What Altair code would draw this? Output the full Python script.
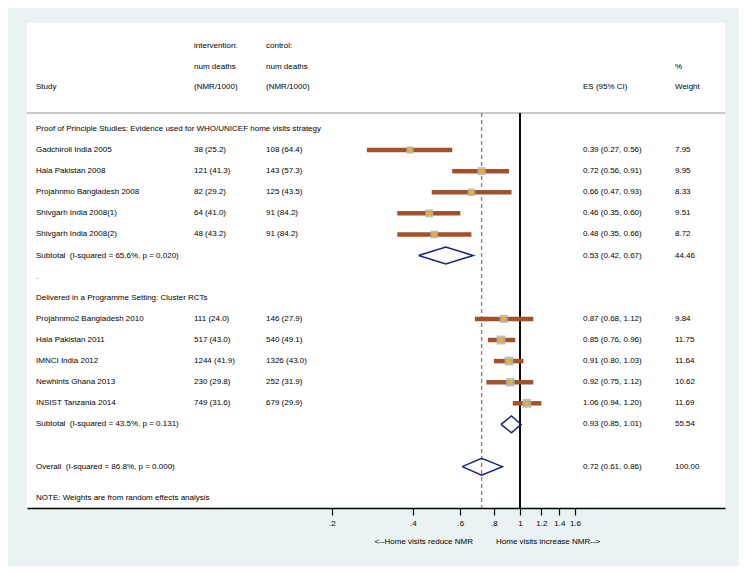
import altair as alt
import pandas as pd

# ---------------- data ----------------
study = ["Gadchiroli India 2005", "Hala Pakistan 2008", "Projahnmo Bangladesh 2008",
         "Shivgarh India 2008(1)", "Shivgarh India 2008(2)",
         "Projahnmo2 Bangladesh 2010", "Hala Pakistan 2011", "IMNCI India 2012",
         "Newhints Ghana 2013", "INSIST Tanzania 2014"]
study_row = [1, 2, 3, 4, 5, 9, 10, 11, 12, 13]
intervention = ["38 (25.2)", "121 (41.3)", "82 (29.2)", "64 (41.0)", "48 (43.2)",
                "111 (24.0)", "517 (43.0)", "1244 (41.9)", "230 (29.8)", "749 (31.6)"]
control = ["108 (64.4)", "143 (57.3)", "125 (43.5)", "91 (84.2)", "91 (84.2)",
           "146 (27.9)", "540 (49.1)", "1326 (43.0)", "252 (31.9)", "679 (29.9)"]
es = [0.39, 0.72, 0.66, 0.46, 0.48, 0.87, 0.85, 0.91, 0.92, 1.06]
lo = [0.27, 0.56, 0.47, 0.35, 0.35, 0.68, 0.76, 0.80, 0.75, 0.94]
hi = [0.56, 0.91, 0.93, 0.60, 0.66, 1.12, 0.96, 1.03, 1.12, 1.20]
weight = [7.95, 9.95, 8.33, 9.51, 8.72, 9.84, 11.75, 11.64, 10.62, 11.69]

pooled_label = ["Subtotal\u00a0 (I-squared = 65.6%, p = 0.020)",
                "Subtotal\u00a0 (I-squared = 43.5%, p = 0.131)",
                "Overall\u00a0 (I-squared = 86.8%, p = 0.000)"]
pooled_row = [6, 14, 16]
pooled_es = [0.53, 0.93, 0.72]
pooled_lo = [0.42, 0.85, 0.61]
pooled_hi = [0.67, 1.01, 0.86]
pooled_weight = [44.46, 55.54, 100.00]

group_label = ["Proof of Principle Studies: Evidence used for WHO/UNICEF home visits strategy",
               ".",
               "Delivered in a Programme Setting: Cluster RCTs"]
group_row = [0, 7, 8]

note_label = ["NOTE: Weights are from random effects analysis"]
note_row = [17.5]

tick_values = [0.2, 0.4, 0.6, 0.8, 1, 1.2, 1.4, 1.6]
axis_left_title = "<--Home visits reduce NMR"
axis_right_title = "Home visits increase NMR-->"

# ---------------- tables ----------------
studies = pd.DataFrame({
    "label": study, "row": study_row, "inter": intervention, "ctrl": control,
    "es": es, "lo": lo, "hi": hi, "w": weight,
})
studies["estxt"] = [f"{a:.2f} ({b:.2f}, {c:.2f})" for a, b, c in zip(es, lo, hi)]
studies["wtxt"] = [f"{v:.2f}" for v in weight]

pooled = pd.DataFrame({
    "label": pooled_label, "row": pooled_row, "es": pooled_es,
    "lo": pooled_lo, "hi": pooled_hi, "w": pooled_weight,
})
pooled["estxt"] = [f"{a:.2f} ({b:.2f}, {c:.2f})" for a, b, c in zip(pooled_es, pooled_lo, pooled_hi)]
pooled["wtxt"] = [f"{v:.2f}" for v in pooled_weight]

HALF = 0.4
diam_rows = []
for i in range(len(pooled_label)):
    pts = [(pooled_lo[i], pooled_row[i]), (pooled_es[i], pooled_row[i] - HALF),
           (pooled_hi[i], pooled_row[i]), (pooled_es[i], pooled_row[i] + HALF),
           (pooled_lo[i], pooled_row[i])]
    for k, (xx, yy) in enumerate(pts):
        diam_rows.append({"id": i, "k": k, "x": xx, "y": yy})
diamonds = pd.DataFrame(diam_rows)

groups = pd.DataFrame({"label": group_label, "row": group_row})
notes = pd.DataFrame({"label": note_label, "row": note_row})

# ---------------- layout ----------------
W, H = 698, 485
FONT = "Liberation Sans"
FS = 8
xscale = alt.Scale(type="log", domain=[0.01474, 5.775], nice=False, zero=False)
yscale = alt.Scale(domain=[-5.02, 17.96], reverse=True, nice=False, zero=False)

X_STUDY, X_INT, X_CTRL, X_ES, X_W = 9, 167, 239, 556, 648

xaxis = alt.Axis(values=tick_values, title=None, grid=False,
                 labelExpr="datum.value < 1 ? substring(format(datum.value, '.1f'), 1) : format(datum.value, '~g')",
                 domainColor="black", domainWidth=1.3, tickColor="black", tickWidth=1.2,
                 tickSize=7, labelPadding=4, labelFont=FONT, labelFontSize=FS,
                 labelColor="black", labelFlush=False)


def ycol(field):
    return alt.Y(field, type="quantitative", scale=yscale, axis=None)


def txt(df, field, xpix, ypos="row", align="left"):
    return alt.Chart(df).mark_text(align=align, baseline="middle", font=FONT,
                                   fontSize=FS, color="black").encode(
        x=alt.value(xpix), y=ycol(ypos), text=alt.Text(field, type="nominal"))


base_sep = alt.Chart(groups).mark_rule(color="#c9c9c9", strokeWidth=1.5).encode(
    x=alt.value(0), x2=alt.value(W), y=alt.value(90))

null_line = alt.Chart(groups).mark_rule(color="black", strokeWidth=1.3).encode(
    x=alt.X(datum=1, type="quantitative", scale=xscale, axis=xaxis),
    y=alt.value(90), y2=alt.value(H))

overall_line = alt.Chart(pooled.iloc[[2]]).mark_rule(
    color="#a8697a", strokeWidth=1.3, strokeDash=[4, 3]).encode(
    x=alt.X("es:Q", scale=xscale), y=alt.value(90), y2=alt.value(H))

ci = alt.Chart(studies).mark_rule(color="#a0522d", strokeWidth=4.5).encode(
    x=alt.X("lo:Q", scale=xscale), x2="hi:Q", y=ycol("row"))

boxes = alt.Chart(studies).mark_square(color="#b9b1a8", opacity=0.85).encode(
    x=alt.X("es:Q", scale=xscale), y=ycol("row"),
    size=alt.Size("w:Q", scale=alt.Scale(domain=[0, 12], range=[0, 80]), legend=None))

dots = alt.Chart(studies).mark_square(color="#f5b30c", size=12, opacity=1).encode(
    x=alt.X("es:Q", scale=xscale), y=ycol("row"))

diam = alt.Chart(diamonds).mark_line(color="#1a237e", strokeWidth=1.5).encode(
    x=alt.X("x:Q", scale=xscale), y=ycol("y"), detail="id:N", order="k:Q")

# header texts
hdr = pd.DataFrame({"label": ["x"]})


def htxt(s, xpix, ypix):
    return alt.Chart(hdr).mark_text(align="left", baseline="middle", font=FONT,
                                    fontSize=FS, color="black", text=s).encode(
        x=alt.value(xpix), y=alt.value(ypix))


headers = [
    htxt("intervention:", X_INT, 23), htxt("control:", X_CTRL, 23),
    htxt("num deaths", X_INT, 44), htxt("num deaths", X_CTRL, 44), htxt("%", X_W, 44),
    htxt("Study", X_STUDY, 64), htxt("(NMR/1000)", X_INT, 64), htxt("(NMR/1000)", X_CTRL, 64),
    htxt("ES (95% CI)", X_ES, 64), htxt("Weight", X_W, 64),
]

left_title = alt.Chart(hdr).mark_text(align="right", baseline="middle", font=FONT,
                                      fontSize=FS, color="black", text=axis_left_title).encode(
    x=alt.value(446), y=alt.value(H + 34))
right_title = alt.Chart(hdr).mark_text(align="left", baseline="middle", font=FONT,
                                       fontSize=FS, color="black", text=axis_right_title).encode(
    x=alt.value(469), y=alt.value(H + 34))

layers = [base_sep, null_line, overall_line, ci, boxes, dots, diam,
          txt(groups, "label", X_STUDY),
          txt(studies, "label", X_STUDY), txt(studies, "inter", X_INT),
          txt(studies, "ctrl", X_CTRL), txt(studies, "estxt", X_ES), txt(studies, "wtxt", X_W),
          txt(pooled, "label", X_STUDY), txt(pooled, "estxt", X_ES), txt(pooled, "wtxt", X_W),
          txt(notes, "label", X_STUDY),
          left_title, right_title] + headers

chart = alt.layer(*layers).properties(
    width=W, height=H,
    autosize=alt.AutoSizeParams(type="none"),
    padding={"left": 19, "top": 15, "right": 14, "bottom": 58},
    background="#eaf2f3",
).configure_view(stroke=None, fill="white")

chart.save("out.html", embed_options={"renderer": "svg", "actions": False})
